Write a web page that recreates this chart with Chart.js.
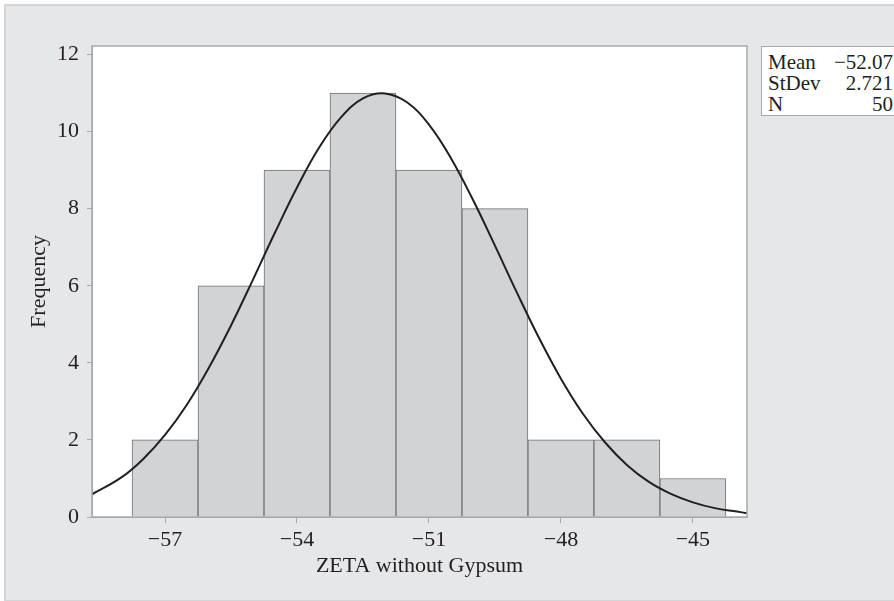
<!DOCTYPE html>
<html>
<head>
<meta charset="utf-8">
<script src="https://cdn.jsdelivr.net/npm/chart.js@4.4.1/dist/chart.umd.min.js"></script>
<style>
  body { margin: 0; background: #fff; overflow: hidden; }
  #frame { position: absolute; left: 4px; top: 4px; width: 900px; height: 594px; background: #e6e7e8; border: 2px solid #d4d5d7; border-right: none; }
  #wrap { position: absolute; left: 0; top: 0; width: 894px; height: 601px; }
  #stats { position: absolute; left: 761px; top: 46px; width: 140px; height: 70px; background: #fff; border: 1px solid #a7a9ac; font-family: "Liberation Serif", serif; font-size: 21px; color: #231f20; padding-top: 5px; box-sizing: border-box; }
  #stats .row { display: flex; justify-content: space-between; width: 125px; margin-left: 6px; line-height: 21px; }
</style>
</head>
<body>
<div id="frame"></div>
<div id="wrap"><canvas id="c" width="894" height="601"></canvas></div>
<div id="stats"></div>
<script>
// histogram bins (centres) and counts
const binCenters = [-57, -55.5, -54, -52.5, -51, -49.5, -48, -46.5, -45];
const frequencies = [2, 6, 9, 11, 9, 8, 2, 2, 1];

// fitted normal curve
const curveX = [-58.66, -58, -57.5, -57, -56.5, -56, -55.5, -55, -54.5, -54, -53.5, -53, -52.5, -52, -51.5, -51, -50.5, -50, -49.5, -49, -48.5, -48, -47.5, -47, -46.5, -46, -45.5, -45, -44.5, -44, -43.77];
const curveY = [0.59, 1.02, 1.50, 2.13, 2.92, 3.88, 4.97, 6.16, 7.38, 8.55, 9.58, 10.37, 10.86, 10.99, 10.76, 10.18, 9.31, 8.23, 7.04, 5.82, 4.65, 3.59, 2.68, 1.94, 1.35, 0.91, 0.60, 0.38, 0.23, 0.14, 0.10];

const xTicks = [-57, -54, -51, -48, -45];
const yTicks = [0, 2, 4, 6, 8, 10, 12];

const statLabels = ["Mean", "StDev", "N"];
const statValues = ["\u221252.07", "2.721", "50"];

const ink = "#231f20";
const axisGray = "#a7a9ac";
const font = { family: "Liberation Serif", size: 22 };

const box = document.getElementById("stats");
statLabels.forEach((lab, i) => {
  const r = document.createElement("div");
  r.className = "row";
  r.innerHTML = "<span>" + lab + "</span><span>" + statValues[i] + "</span>";
  box.appendChild(r);
});

const plotBg = {
  id: "plotBg",
  beforeDraw(chart) {
    const { ctx, chartArea: a } = chart;
    ctx.save();
    ctx.fillStyle = "#fff";
    ctx.fillRect(a.left, a.top, a.right - a.left, a.bottom - a.top);
    ctx.restore();
  },
  afterDraw(chart) {
    const { ctx, chartArea: a } = chart;
    ctx.save();
    ctx.strokeStyle = axisGray;
    ctx.lineWidth = 1.5;
    ctx.strokeRect(a.left, a.top, a.right - a.left, a.bottom - a.top);
    ctx.restore();
  }
};

new Chart(document.getElementById("c").getContext("2d"), {
  data: {
    datasets: [{
      type: "line",
      data: curveX.map((x, i) => ({ x: x, y: curveY[i] })),
      borderColor: ink,
      borderWidth: 2,
      pointRadius: 0,
      tension: 0.4,
      order: 0
    }, {
      type: "bar",
      data: binCenters.map((x, i) => ({ x: x, y: frequencies[i] })),
      backgroundColor: "#d2d3d5",
      borderColor: "#717275",
      borderWidth: 1,
      barPercentage: 1,
      categoryPercentage: 1,
      order: 1
    }]
  },
  options: {
    responsive: false,
    animation: false,
    layout: { padding: { left: 0, top: 46, right: 147, bottom: 0 } },
    plugins: { legend: { display: false }, tooltip: { enabled: false } },
    scales: {
      x: {
        type: "linear",
        min: -58.66,
        max: -43.77,
        offset: false,
        grid: { drawOnChartArea: false, offset: false, color: axisGray, tickLength: 6 },
        border: { color: axisGray },
        ticks: { color: ink, font: font, padding: 4, callback: v => String(v).replace("-", "\u2212") },
        afterBuildTicks: axis => { axis.ticks = xTicks.map(v => ({ value: v })); },
        afterFit: axis => { axis.height = 84; },
        title: { display: true, text: "ZETA without Gypsum", color: ink, font: font, padding: { top: 0, bottom: 22 } }
      },
      y: {
        min: 0,
        max: 12.22,
        grid: { drawOnChartArea: false, color: axisGray, tickLength: 5 },
        border: { color: axisGray },
        ticks: { color: ink, font: font, padding: 8 },
        afterBuildTicks: axis => { axis.ticks = yTicks.map(v => ({ value: v })); },
        afterFit: axis => { axis.width = 92; },
        title: { display: true, text: "Frequency", color: ink, font: font, padding: { top: 26, bottom: 0 } }
      }
    }
  },
  plugins: [plotBg]
});
</script>
</body>
</html>
